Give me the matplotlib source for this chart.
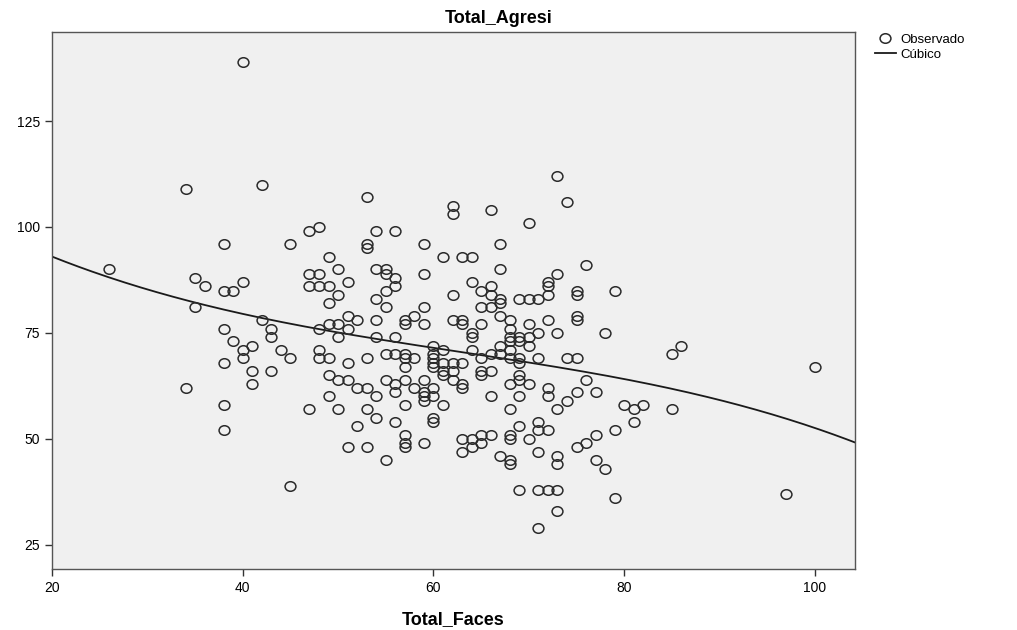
import numpy as np
from matplotlib import pyplot as plt
from matplotlib.path import Path

# Total_Faces / Total_Agresi
faces = [40, 34, 42, 26, 38, 35, 36, 38, 39, 40, 35, 42, 43, 38, 39, 40, 41, 43, 44, 45,
         38, 40, 41, 43, 41, 34, 38, 38, 45, 45, 47, 48, 49, 47, 48, 47, 48, 49, 50, 51,
         50, 49, 51, 52, 48, 49, 50, 51, 50, 48, 48, 49, 51, 49, 50, 51, 52, 53, 49, 47,
         50, 52, 51, 53, 53, 54, 54, 53, 53, 53, 53, 54, 56, 54, 55, 55, 56, 56, 55, 54,
         55, 54, 54, 56, 55, 56, 57, 57, 58, 57, 55, 57, 56, 56, 58, 57, 56, 57, 57, 57,
         55, 59, 57, 57, 58, 59, 59, 59, 59, 61, 60, 60, 60, 60, 60, 61, 61, 61, 61, 62,
         62, 63, 62, 59, 59, 59, 59, 60, 60, 61, 60, 60, 63, 63, 62, 62, 66, 63, 64, 62,
         62, 63, 63, 64, 64, 64, 65, 66, 66, 65, 66, 65, 67, 67, 67, 67, 67, 64, 65, 66,
         67, 67, 65, 65, 66, 63, 63, 64, 64, 65, 65, 66, 66, 67, 68, 68, 68, 68, 68, 68,
         69, 69, 70, 71, 71, 72, 71, 71, 72, 73, 73, 73, 73, 71, 69, 69, 69, 70, 72, 72,
         73, 74, 75, 76, 77, 75, 76, 77, 77, 78, 79, 79, 80, 81, 82, 81, 85, 85, 86, 100,
         97, 79, 78, 76, 75, 75, 75, 75, 74, 75, 73, 72, 72, 72, 72, 73, 71, 70, 69, 70,
         71, 71, 70, 70, 69, 69, 68, 68, 68, 68, 68, 69, 69, 68, 73, 74, 70]
agresi = [139, 109, 110, 90, 96, 88, 86, 85, 85, 87, 81, 78, 76, 76, 73, 71, 72, 74, 71, 69,
          68, 69, 66, 66, 63, 62, 58, 52, 39, 96, 99, 100, 93, 89, 89, 86, 86, 86, 90, 87,
          84, 82, 79, 78, 76, 77, 77, 76, 74, 71, 69, 69, 68, 65, 64, 64, 62, 62, 60, 57,
          57, 53, 48, 48, 57, 60, 55, 69, 107, 96, 95, 99, 99, 90, 90, 89, 88, 86, 85, 83,
          81, 78, 74, 74, 70, 70, 70, 69, 69, 67, 64, 64, 63, 61, 62, 58, 54, 51, 49, 48,
          45, 49, 78, 77, 79, 81, 77, 89, 96, 93, 72, 70, 69, 68, 67, 71, 68, 66, 65, 68,
          66, 68, 64, 64, 61, 60, 59, 62, 60, 58, 55, 54, 63, 62, 105, 103, 104, 93, 93, 84,
          78, 78, 77, 75, 74, 87, 85, 86, 84, 81, 81, 77, 96, 90, 83, 82, 79, 71, 69, 70,
          70, 72, 66, 65, 66, 50, 47, 50, 48, 49, 51, 51, 60, 46, 51, 50, 45, 44, 57, 63,
          53, 38, 50, 54, 52, 52, 47, 38, 38, 38, 46, 44, 33, 29, 60, 64, 65, 63, 62, 60,
          57, 59, 61, 64, 61, 48, 49, 51, 45, 43, 52, 36, 58, 57, 58, 54, 57, 70, 72, 67,
          37, 85, 75, 91, 85, 84, 79, 78, 69, 69, 75, 78, 84, 86, 87, 89, 83, 83, 83, 77,
          75, 69, 72, 74, 73, 74, 78, 76, 74, 73, 71, 69, 68, 69, 112, 106, 101]

# points
fit_x = [20, 40, 60, 80, 100, 104]
fit_y = [93.0, 79.5, 71.6, 63.8, 53.3, 48.8]

plt.rcParams['font.family'] = ['Liberation Sans', 'DejaVu Sans']

# SPSS draws its circles slightly flattened
circ = Path.unit_circle()
oval = Path(circ.vertices * [1.0, 0.88], circ.codes)

fig = plt.figure(figsize=(10.17, 6.3), dpi=100)
ax = fig.add_axes([52 / 1017, 1 - 569 / 630, (855 - 52) / 1017, (569 - 32) / 630])
ax.set_facecolor('#f0f0f0')

ax.plot(faces, agresi, linestyle='none', marker=oval, ms=7.8, mfc='none',
        mec='#2a2a2a', mew=1.1, label='Observado', zorder=3)

coef = np.polyfit(fit_x, fit_y, 3)
xs = np.linspace(20, 104.2, 300)
ax.plot(xs, np.polyval(coef, xs), color='#1a1a1a', lw=1.3, label='Cúbico', zorder=2)

ax.set_xlim(20, 104.2)
ax.set_ylim(19.3, 146)
ax.set_xticks([20, 40, 60, 80, 100])
ax.set_yticks([25, 50, 75, 100, 125])
ax.tick_params(direction='out', length=5, width=1, labelsize=10, color='#333333')
for s in ax.spines.values():
    s.set_color('#555555')
    s.set_linewidth(1)

ax.set_xlabel('Total_Faces', fontsize=13, fontweight='bold', labelpad=12)
fig.text(0.49, 0.97, 'Total_Agresi', ha='center', va='center', fontsize=13,
         fontweight='bold')

fig.legend(loc='upper left', bbox_to_anchor=(0.855, 0.955), frameon=False,
           fontsize=9.5, handlelength=1.6, handletextpad=0.3, labelspacing=0.2,
           borderaxespad=0)

fig.savefig('out.png', dpi=100)
